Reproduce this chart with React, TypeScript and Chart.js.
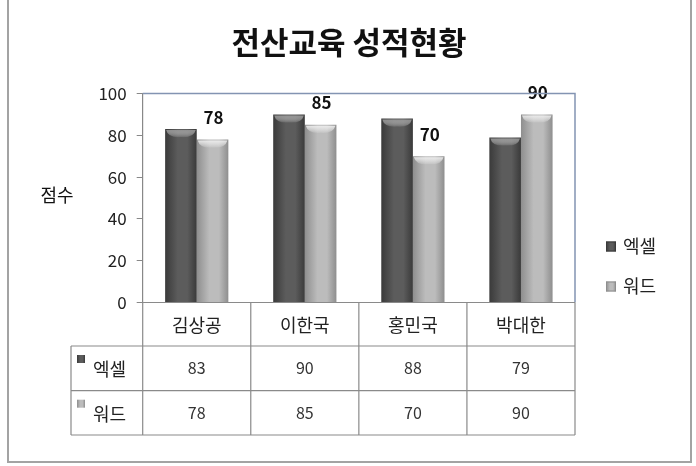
import React, { useEffect, useRef } from "react";
import { Chart, registerables } from "chart.js";

Chart.register(...registerables);

const title = "전산교육 성적현황";
const yTitle = "점수";
const categories = ["김상공", "이한국", "홍민국", "박대한"];
const seriesNames = ["엑셀", "워드"];
const excelScores = [83, 90, 88, 79];
const wordScores = [78, 85, 70, 90];
const yTicks = [0, 20, 40, 60, 80, 100];

const FONT = "'Noto Sans CJK KR', 'Noto Sans', sans-serif";
const palettes = [
  { edge: "#3a3a3a", mid: "#5c5c5c", cap: "#8a8a8a" },
  { edge: "#8e8e8e", mid: "#bcbcbc", cap: "#eeeeee" },
];

function barGradient(ctx: CanvasRenderingContext2D, x0: number, x1: number, p: { edge: string; mid: string }) {
  const g = ctx.createLinearGradient(x0, 0, x1, 0);
  g.addColorStop(0, p.edge);
  g.addColorStop(0.4, p.mid);
  g.addColorStop(0.7, p.mid);
  g.addColorStop(1, p.edge);
  return g;
}

const excelChartPlugin = {
  id: "excelChart",
  beforeDatasetsDraw(chart: any) {
    const ctx = chart.ctx;
    chart.data.datasets.forEach((_: any, di: number) => {
      const meta = chart.getDatasetMeta(di);
      meta.data.forEach((el: any) => {
        const x0 = el.x - el.width / 2;
        const x1 = el.x + el.width / 2;
        el.options = { ...el.options, backgroundColor: barGradient(ctx, x0, x1, palettes[di]) };
      });
    });
  },
  afterDatasetsDraw(chart: any) {
    const ctx = chart.ctx;
    const area = chart.chartArea;
    chart.data.datasets.forEach((_: any, di: number) => {
      const meta = chart.getDatasetMeta(di);
      meta.data.forEach((el: any) => {
        const x0 = el.x - el.width / 2;
        const w = el.width;
        const top = el.y;
        const g = ctx.createLinearGradient(0, top, 0, top + 9);
        g.addColorStop(0, palettes[di].cap);
        g.addColorStop(1, "rgba(255,255,255,0)");
        ctx.save();
        ctx.fillStyle = g;
        ctx.beginPath();
        ctx.moveTo(x0 + 1, top + 1);
        ctx.lineTo(x0 + w - 1, top + 1);
        ctx.quadraticCurveTo(x0 + w - 3, top + 9, x0 + w / 2, top + 8);
        ctx.quadraticCurveTo(x0 + 3, top + 9, x0 + 1, top + 1);
        ctx.fill();
        ctx.restore();
      });
    });
    const meta = chart.getDatasetMeta(1);
    ctx.save();
    ctx.font = `bold 17px ${FONT}`;
    ctx.fillStyle = "#111";
    ctx.textAlign = "center";
    ctx.textBaseline = "middle";
    meta.data.forEach((el: any, i: number) => {
      ctx.fillText(String(wordScores[i]), el.x + 1, el.y - 22);
    });
    ctx.restore();
    ctx.save();
    ctx.strokeStyle = "#8394b2";
    ctx.lineWidth = 1.5;
    ctx.beginPath();
    ctx.moveTo(area.left, area.top);
    ctx.lineTo(area.right, area.top);
    ctx.lineTo(area.right, area.bottom);
    ctx.stroke();
    ctx.restore();
  },
  afterDraw(chart: any) {
    const ctx = chart.ctx;
    const area = chart.chartArea;
    const xs = chart.scales.x;
    const catW = (area.right - area.left) / categories.length;
    const tableLeft = 71;
    const headerBottom = 346;
    const row1Bottom = 390.7;
    const tableBottom = 435;

    ctx.save();
    ctx.font = `bold 31px ${FONT}`;
    ctx.fillStyle = "#111";
    ctx.textAlign = "center";
    ctx.textBaseline = "middle";
    ctx.fillText(title, 349, 42);

    ctx.font = `18px ${FONT}`;
    ctx.fillStyle = "#111";
    ctx.fillText(yTitle, 57, 195);

    const legendY = [246.5, 286.5];
    seriesNames.forEach((name, i) => {
      const y = legendY[i];
      ctx.fillStyle = barGradient(ctx, 606, 616, palettes[i]);
      ctx.fillRect(606, y - 5, 10, 10);
      ctx.strokeStyle = palettes[i].edge;
      ctx.lineWidth = 1;
      ctx.strokeRect(606.5, y - 4.5, 9, 9);
      ctx.font = `18px ${FONT}`;
      ctx.fillStyle = "#222";
      ctx.textAlign = "left";
      ctx.fillText(name, 623, y);
    });

    ctx.strokeStyle = "#8a8a8a";
    ctx.lineWidth = 1.2;
    ctx.beginPath();
    ctx.moveTo(area.left, area.bottom);
    ctx.lineTo(area.right, area.bottom);
    ctx.moveTo(tableLeft, headerBottom);
    ctx.lineTo(area.right, headerBottom);
    ctx.moveTo(tableLeft, row1Bottom);
    ctx.lineTo(area.right, row1Bottom);
    ctx.moveTo(tableLeft, tableBottom);
    ctx.lineTo(area.right, tableBottom);
    ctx.moveTo(tableLeft, headerBottom);
    ctx.lineTo(tableLeft, tableBottom);
    for (let i = 0; i <= categories.length; i++) {
      const x = area.left + i * catW;
      ctx.moveTo(x, area.bottom);
      ctx.lineTo(x, tableBottom);
    }
    ctx.stroke();

    ctx.textAlign = "center";
    ctx.textBaseline = "middle";
    const headerY = (area.bottom + headerBottom) / 2 + 1;
    const rowY = [(headerBottom + row1Bottom) / 2, (row1Bottom + tableBottom) / 2];
    categories.forEach((c, i) => {
      const x = xs.getPixelForValue(i);
      ctx.font = `18px ${FONT}`;
      ctx.fillStyle = "#222";
      ctx.fillText(c, x, headerY);
      ctx.font = `16px ${FONT}`;
      ctx.fillStyle = "#333";
      ctx.fillText(String(excelScores[i]), x, rowY[0]);
      ctx.fillText(String(wordScores[i]), x, rowY[1]);
    });
    seriesNames.forEach((name, i) => {
      const top = i === 0 ? headerBottom : row1Bottom;
      ctx.fillStyle = barGradient(ctx, 77, 85, palettes[i]);
      ctx.fillRect(77, top + 9, 8, 8);
      ctx.font = `18px ${FONT}`;
      ctx.fillStyle = "#222";
      ctx.textAlign = "left";
      ctx.fillText(name, 93, rowY[i] + 1);
    });

    ctx.strokeStyle = "#a3a3a3";
    ctx.lineWidth = 2;
    ctx.beginPath();
    ctx.moveTo(8, 0);
    ctx.lineTo(8, 462);
    ctx.lineTo(691, 462);
    ctx.lineTo(691, 0);
    ctx.stroke();
    ctx.restore();
  },
};

export default function App() {
  const ref = useRef<HTMLCanvasElement | null>(null);
  useEffect(() => {
    if (!ref.current) return;
    const chart = new Chart(ref.current, {
      type: "bar",
      data: {
        labels: categories,
        datasets: [
          { label: seriesNames[0], data: excelScores, backgroundColor: palettes[0].mid, borderWidth: 0 },
          { label: seriesNames[1], data: wordScores, backgroundColor: palettes[1].mid, borderWidth: 0 },
        ],
      },
      options: {
        responsive: false,
        animation: false,
        events: [],
        layout: { padding: { top: 93.5, right: 121, bottom: 31, left: 0 } },
        datasets: { bar: { barPercentage: 1, categoryPercentage: 0.585 } },
        plugins: { legend: { display: false }, title: { display: false }, tooltip: { enabled: false } },
        scales: {
          x: {
            ticks: { display: false },
            grid: { display: false },
            border: { display: false },
            afterFit: (s: any) => {
              s.height = 132.5;
            },
          },
          y: {
            min: 0,
            max: 100,
            afterBuildTicks: (s: any) => {
              s.ticks = yTicks.map((v) => ({ value: v }));
            },
            ticks: { font: { size: 17, family: FONT }, color: "#222", padding: 10 },
            grid: { drawOnChartArea: false, drawTicks: true, tickLength: 6, color: "#888" },
            border: { display: true, color: "#888", width: 1.2 },
            afterFit: (s: any) => {
              s.width = 142.7;
            },
          },
        },
      },
      plugins: [excelChartPlugin],
    });
    return () => chart.destroy();
  }, []);
  return (
    <div style={{ position: "fixed", left: 0, top: 0, width: 696, height: 466, background: "#fff" }}>
      <canvas ref={ref} width={696} height={466} />
    </div>
  );
}
